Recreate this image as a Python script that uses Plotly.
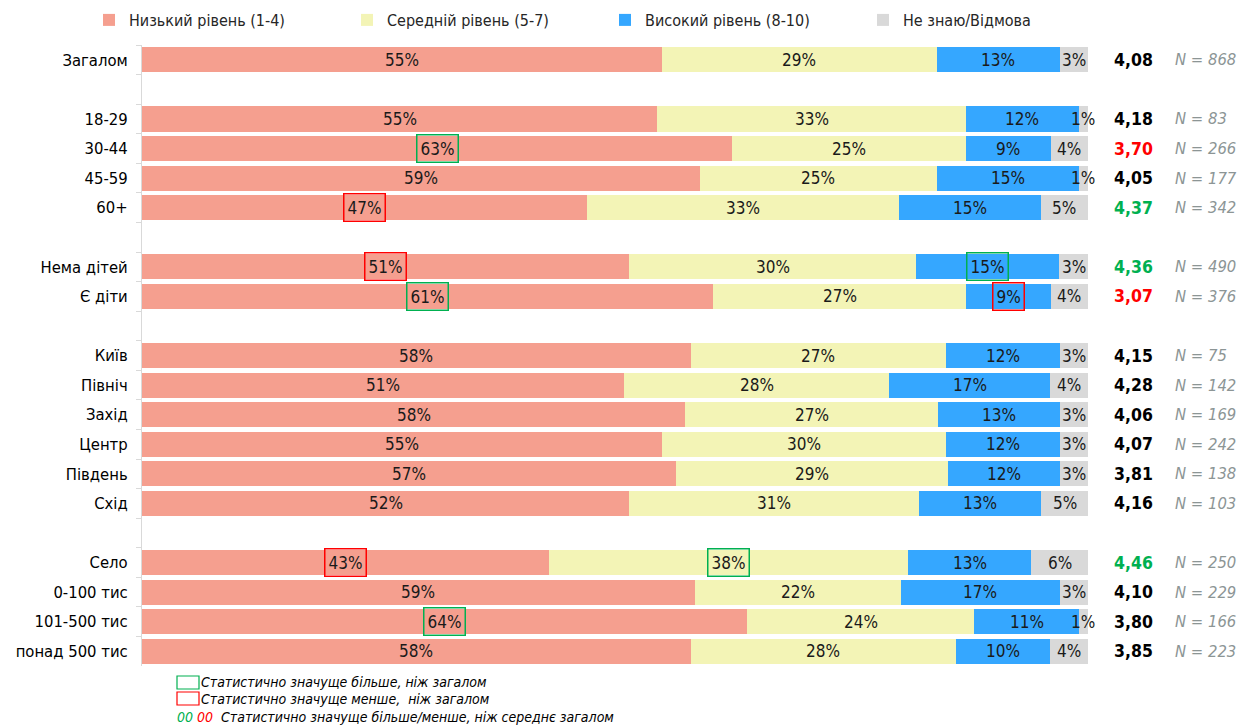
import plotly.graph_objects as go

# ---------------- data ----------------
categories = ["Загалом", " ", "18-29", "30-44", "45-59", "60+", "  ",
              "Нема дітей", "Є діти", "   ",
              "Київ", "Північ", "Захід", "Центр", "Південь", "Схід", "    ",
              "Село", "0-100 тис", "101-500 тис", "понад 500 тис"]
series_names = ["Низький рівень (1-4)", "Середній рівень (5-7)",
                "Високий рівень (8-10)", "Не знаю/Відмова"]
low = [55, None, 55, 63, 59, 47, None, 51, 61, None, 58, 51, 58, 55, 57, 52, None, 43, 59, 64, 58]
mid = [29, None, 33, 25, 25, 33, None, 30, 27, None, 27, 28, 27, 30, 29, 31, None, 38, 22, 24, 28]
high = [13, None, 12, 9, 15, 15, None, 15, 9, None, 12, 17, 13, 12, 12, 13, None, 13, 17, 11, 10]
dk = [3, None, 1, 4, 1, 5, None, 3, 4, None, 3, 4, 3, 3, 3, 5, None, 6, 3, 1, 4]
means = [4.08, None, 4.18, 3.70, 4.05, 4.37, None, 4.36, 3.07, None,
         4.15, 4.28, 4.06, 4.07, 3.81, 4.16, None, 4.46, 4.10, 3.80, 3.85]
n_sizes = [868, None, 83, 266, 177, 342, None, 490, 376, None,
           75, 142, 169, 242, 138, 103, None, 250, 229, 166, 223]
# significance of cells: (category, series index, "hi"/"lo")
sig_cells = [("30-44", 0, "hi"), ("60+", 0, "lo"), ("Нема дітей", 0, "lo"),
             ("Нема дітей", 2, "hi"), ("Є діти", 0, "hi"), ("Є діти", 2, "lo"),
             ("Село", 0, "lo"), ("Село", 1, "hi"), ("101-500 тис", 0, "hi")]
mean_sig = {"30-44": "lo", "60+": "hi", "Нема дітей": "hi", "Є діти": "lo", "Село": "hi"}
note_lines = ["Статистично значуще більше, ніж загалом",
              "Статистично значуще менше,  ніж загалом",
              "Статистично значуще більше/менше, ніж середнє загалом"]

# ---------------- style ----------------
colors = ["#F59F8F", "#F3F4B6", "#35A7FF", "#D9D9D9"]
GREEN, RED = "#00B050", "#FF0000"
FONT = "DejaVu Sans Condensed, DejaVu Sans, sans-serif"
OFF = 8                      # page body margin
W, H = 1249 - OFF, 725 - OFF
L, R, T, B = 142 - OFF, 161, 45 - OFF, 59
PW, PH = W - L - R, H - T - B


def px(xs):
    """screen pixel x -> paper coordinate"""
    return (xs - OFF - L) / PW


def py(ys):
    """screen pixel y -> paper coordinate"""
    return (H - B - (ys - OFF)) / PH


series = [low, mid, high, dk]
fig = go.Figure()
for name, vals, col in zip(series_names, series, colors):
    fig.add_trace(go.Bar(y=categories, x=vals, name=name, orientation="h",
                         marker=dict(color=col, line=dict(width=0)),
                         hoverinfo="name+x"))

annotations = []
sig_lookup = {(c, s): k for c, s, k in sig_cells}
for i, cat in enumerate(categories):
    if low[i] is None:
        continue
    row = [s[i] for s in series]
    total = sum(row)
    cum = 0.0
    for j, v in enumerate(row):
        w = v / total * 100
        mid_x = cum + w / 2
        cum += w
        a = dict(x=mid_x, y=cat, xref="x", yref="y", text=f"{v}%", showarrow=False,
                 xanchor="center", yanchor="middle",
                 font=dict(family=FONT, size=17, color="#1A1A1A"))
        k = sig_lookup.get((cat, j))
        if k:
            a.update(bordercolor=GREEN if k == "hi" else RED, borderwidth=1.5, borderpad=3)
        annotations.append(a)
    mcol = {"hi": GREEN, "lo": RED}.get(mean_sig.get(cat), "#000000")
    annotations.append(dict(x=px(1133), y=cat, xref="paper", yref="y", showarrow=False,
                            xanchor="center", yanchor="middle",
                            text="<b>" + f"{means[i]:.2f}".replace(".", ",") + "</b>",
                            font=dict(family=FONT, size=17.5, color=mcol)))
    annotations.append(dict(x=px(1173), y=cat, xref="paper", yref="y", showarrow=False,
                            xanchor="left", yanchor="middle",
                            text=f"N = {n_sizes[i]}",
                            font=dict(family=FONT, size=16.5, color="#8C9595", style="italic")))

# notes
note_font = dict(family=FONT, size=14, color="#000000", style="italic")
annotations.append(dict(x=px(199), y=py(682.5), xref="paper", yref="paper", xanchor="left",
                        yanchor="middle", showarrow=False, text=note_lines[0], font=note_font))
annotations.append(dict(x=px(199), y=py(699), xref="paper", yref="paper", xanchor="left",
                        yanchor="middle", showarrow=False, text=note_lines[1], font=note_font))
annotations.append(dict(x=px(175), y=py(717), xref="paper", yref="paper", xanchor="left",
                        yanchor="middle", showarrow=False,
                        text=f"<span style='color:{GREEN}'>00</span> <span style='color:{RED}'>00</span>  "
                             + note_lines[2], font=note_font))
shapes = [
    dict(type="rect", xref="paper", yref="paper", x0=px(177), x1=px(199), y0=py(676), y1=py(689),
         line=dict(color=GREEN, width=1.2)),
    dict(type="rect", xref="paper", yref="paper", x0=px(177), x1=px(199), y0=py(692), y1=py(705),
         line=dict(color=RED, width=1.2)),
]

fig.update_layout(
    width=W, height=H, barmode="stack", barnorm="percent", bargap=0.15,
    margin=dict(l=L, r=R, t=T, b=B, autoexpand=False),
    paper_bgcolor="white", plot_bgcolor="white",
    font=dict(family=FONT, size=16, color="#000000"),
    showlegend=True,
    legend=dict(orientation="h", traceorder="normal", xref="paper", yref="paper",
                x=(81 - L) / PW, xanchor="left", y=1 + (T - 12) / PH, yanchor="middle",
                entrywidth=213, entrywidthmode="pixels",
                font=dict(family=FONT, size=16, color="#262626"), itemwidth=30),
    xaxis=dict(range=[0, 100], visible=False, fixedrange=True),
    yaxis=dict(categoryorder="array", categoryarray=categories, autorange="reversed",
               showline=True, linecolor="#D9D9D9", linewidth=1,
               ticks="outside", tickson="boundaries", ticklen=5, tickcolor="#D9D9D9",
               ticklabelstandoff=10, showgrid=False,
               tickfont=dict(family=FONT, size=16.5, color="#000000")),
    annotations=annotations, shapes=shapes,
)

fig.write_html("out.html")
